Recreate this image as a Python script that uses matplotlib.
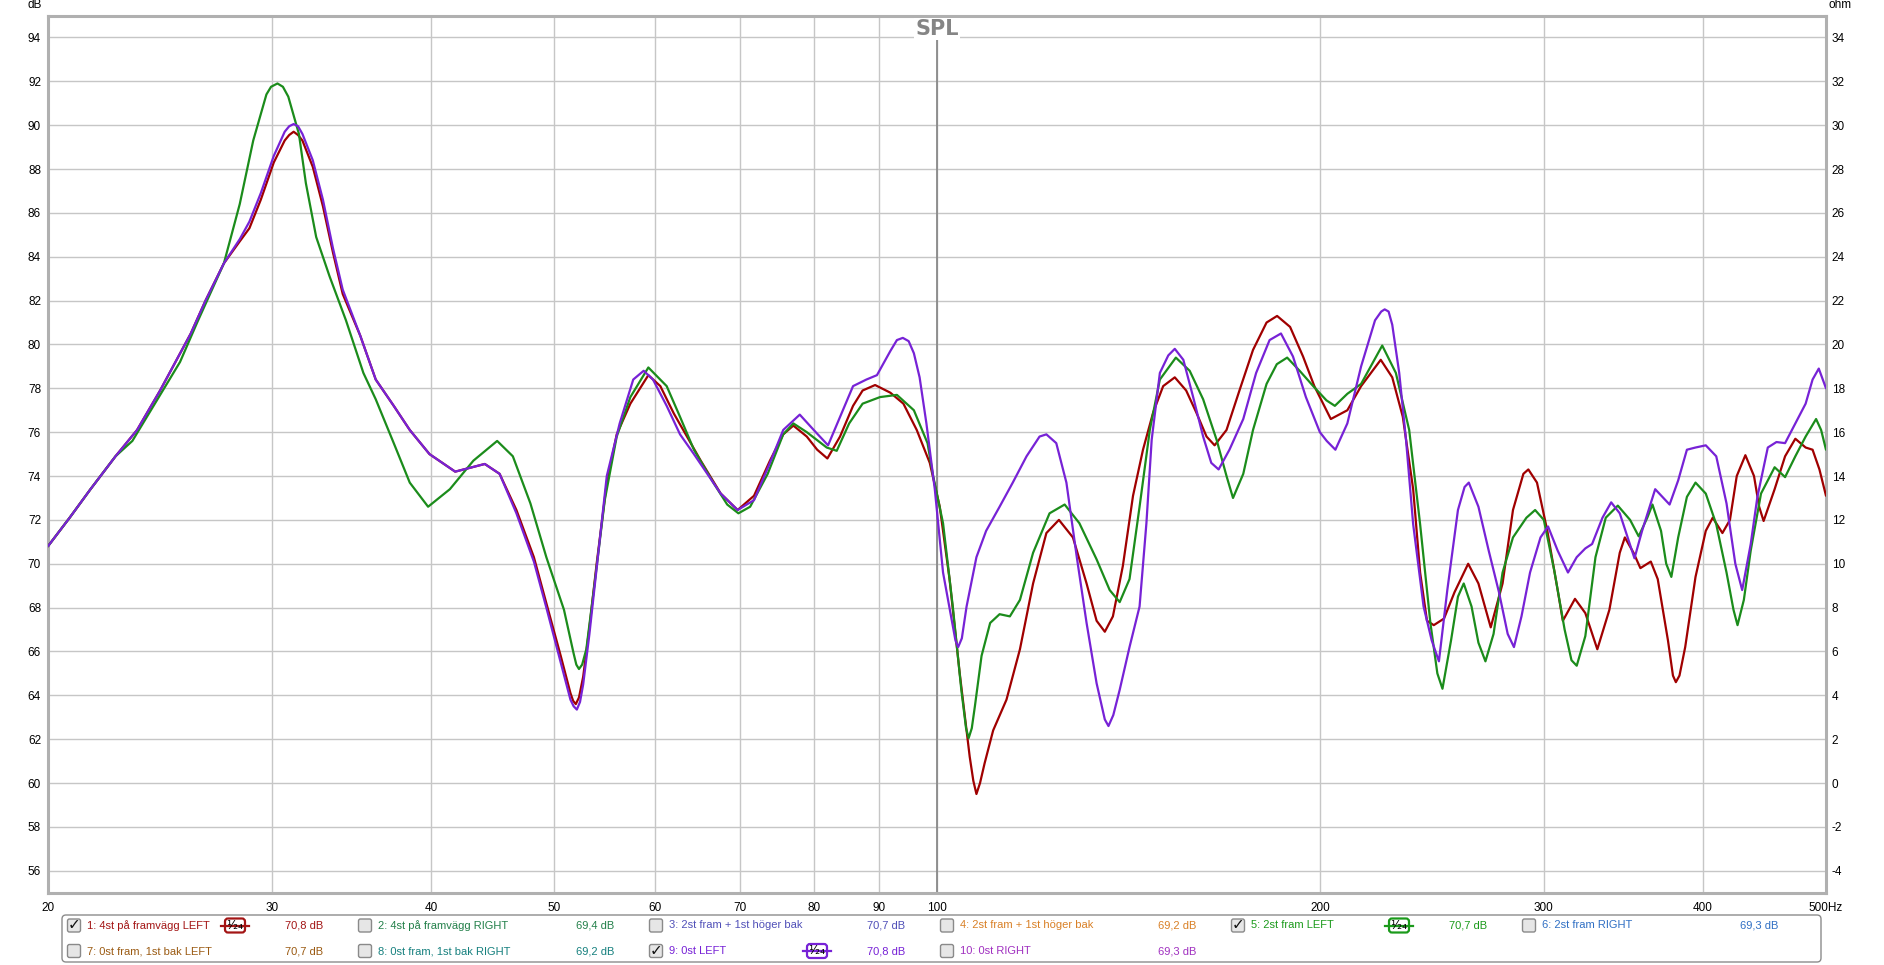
import matplotlib
matplotlib.use("Agg")
import matplotlib.pyplot as plt
from matplotlib import font_manager
from matplotlib.patches import FancyBboxPatch
from matplotlib.lines import Line2D
from matplotlib.transforms import IdentityTransform
from matplotlib.ticker import NullLocator

# ---- Data ----
# 1: 4st på framvägg LEFT
freq_1 = [20, 20.8, 21.6, 22.6, 23.5, 24.5, 25.9, 26.6, 27.5, 28.3,
          28.8, 29.4, 30.1, 30.7, 30.95, 31.2, 31.45, 31.7, 32.3, 32.9,
          33.5, 34.1, 35.2, 36.2, 37.4, 38.5, 39.9, 41.8, 44.1, 45.3,
          46.7, 48.2, 49.3, 50.6, 51.5, 51.75, 52.0, 52.3, 52.7, 53.3,
          54.0, 55.0, 56.0, 57.4, 59.3, 60.6, 62.1, 63.6, 65.2, 67.6,
          69.7, 71.8, 73.9, 75.7, 77.1, 79.0, 80.5, 82.0, 83.9, 85.9,
          87.4, 89.4, 91.9, 94.1, 96.4, 98.7, 100.5, 102.3, 104.2, 106.1,
          106.8, 107.4, 108.1, 109.0, 110.7, 113.4, 116.2, 119.0, 121.9, 124.7,
          127.9, 131.1, 133.5, 135.5, 137.5, 140.0, 142.6, 145.2, 147.9, 150.6,
          153.8, 157.0, 159.9, 162.9, 165.3, 168.9, 172.9, 177.2, 181.6, 185.1,
          189.5, 194.0, 198.0, 204.0, 210.2, 215.5, 223.3, 228.0, 232.4, 236.8,
          239.8, 242.8, 245.8, 250.4, 255.2, 261.6, 266.5, 272.5, 278.4, 283.7,
          289.1, 291.7, 296.3, 301.9, 307.6, 310.5, 317.4, 323.4, 330.5, 337.8,
          344.2, 347.4, 352.9, 357.3, 364.1, 368.7, 375.6, 379.0, 381.0, 383.5,
          387.5, 394.8, 402.2, 407.3, 414.5, 420.2, 425.4, 432.1, 438.9, 443.0,
          446.6, 455.6, 464.3, 473.0, 481.9, 488.0, 494.1, 500]
spl_1 = [70.8, 72.1, 73.4, 74.9, 76.1, 77.9, 80.5, 82.0, 83.7, 84.7,
         85.3, 86.6, 88.3, 89.3, 89.55, 89.7, 89.55, 89.3, 88.1, 86.3,
         84.2, 82.3, 80.4, 78.4, 77.2, 76.1, 75.0, 74.2, 74.55, 74.1,
         72.45, 70.3, 68.2, 65.8, 64.1, 63.75, 63.6, 63.9, 64.85, 67.1,
         70.0, 73.7, 75.9, 77.3, 78.6, 78.1, 76.85, 75.8, 74.7, 73.2,
         72.45, 73.1, 74.7, 75.9, 76.3, 75.8, 75.2, 74.8, 75.8, 77.2,
         77.9, 78.15, 77.8, 77.3, 76.1, 74.6, 72.6, 69.3, 65.0, 61.2,
         60.1, 59.5, 60.0, 60.9, 62.4, 63.8, 66.1, 69.1, 71.4, 72.0,
         71.2, 69.1, 67.4, 66.9, 67.6, 69.9, 73.1, 75.2, 76.9, 78.1,
         78.5, 77.9, 76.9, 75.8, 75.4, 76.1, 77.9, 79.75, 81.0, 81.3,
         80.8, 79.45, 78.1, 76.6, 77.0, 78.1, 79.3, 78.5, 76.7, 73.4,
         69.6, 67.4, 67.2, 67.5, 68.7, 70.0, 69.1, 67.1, 69.1, 72.45,
         74.1, 74.3, 73.7, 71.5, 68.8, 67.4, 68.4, 67.75, 66.1, 67.9,
         70.5, 71.2, 70.5, 69.8, 70.1, 69.3, 66.5, 64.9, 64.6, 64.9,
         66.2, 69.4, 71.5, 72.1, 71.4, 72.0, 74.0, 74.95, 74.0, 72.6,
         71.95, 73.4, 74.9, 75.7, 75.3, 75.2, 74.3, 73.1]

# 5: 2st fram LEFT
freq_5 = [20, 20.8, 21.6, 22.6, 23.3, 24.5, 25.4, 26.2, 27.5, 28.3,
          29.0, 29.7, 29.95, 30.3, 30.6, 30.9, 31.5, 31.9, 32.5, 33.3,
          34.3, 35.4, 36.2, 37.4, 38.5, 39.8, 41.4, 43.2, 45.1, 46.4,
          47.9, 49.3, 50.9, 51.8, 52.05, 52.3, 52.6, 53.0, 53.8, 54.8,
          56.0, 57.4, 59.3, 61.3, 62.8, 64.4, 66.7, 68.4, 69.8, 71.3,
          73.6, 75.7, 77.1, 79.0, 81.9, 83.4, 85.3, 87.4, 90.2, 93.0,
          95.9, 98.3, 99.3, 101.1, 102.9, 104.5, 105.4, 105.9, 106.5, 107.1,
          108.4, 110.1, 112.0, 114.1, 116.2, 119.0, 122.6, 126.0, 129.4, 133.5,
          136.7, 139.2, 141.7, 144.3, 147.0, 149.7, 154.1, 158.0, 161.9, 165.9,
          168.9, 170.9, 174.1, 177.2, 181.6, 185.0, 188.5, 192.8, 197.6, 202.4,
          205.5, 210.2, 215.5, 223.9, 229.5, 235.1, 239.8, 244.3, 247.4, 249.7,
          253.6, 256.8, 259.5, 263.2, 266.5, 269.9, 273.9, 278.4, 283.7, 290.7,
          295.3, 300.0, 305.7, 311.5, 315.4, 318.4, 323.4, 329.4, 335.6, 343.0,
          350.7, 356.2, 361.8, 365.2, 370.9, 374.4, 377.9, 382.6, 388.7, 394.8,
          402.2, 409.9, 417.6, 422.9, 426.0, 430.9, 436.3, 444.5, 455.6, 464.3,
          473.0, 481.9, 491.1, 495.6, 500]
spl_5 = [70.8, 72.1, 73.4, 74.9, 75.6, 77.7, 79.2, 81.0, 83.7, 86.4,
         89.3, 91.4, 91.75, 91.9, 91.75, 91.3, 89.6, 87.35, 84.9, 83.1,
         81.1, 78.7, 77.5, 75.5, 73.7, 72.6, 73.4, 74.7, 75.6, 74.9,
         72.75, 70.3, 67.9, 65.9, 65.4, 65.2, 65.4, 66.1, 69.1, 72.9,
         75.8, 77.6, 78.95, 78.1, 76.7, 75.2, 73.7, 72.7, 72.3, 72.6,
         74.1, 75.9, 76.4, 76.0, 75.3, 75.15, 76.4, 77.3, 77.6, 77.7,
         77.0, 75.5, 74.0, 71.85, 68.05, 64.25, 62.5, 62.05, 62.5, 63.5,
         65.8, 67.3, 67.7, 67.6, 68.35, 70.5, 72.3, 72.7, 71.85, 70.2,
         68.8, 68.25, 69.3, 72.6, 76.1, 78.4, 79.4, 78.8, 77.5, 75.65,
         74.0, 73.0, 74.1, 76.1, 78.2, 79.1, 79.4, 78.8, 78.1, 77.45,
         77.2, 77.75, 78.2, 79.95, 78.7, 76.1, 71.8, 67.3, 65.0, 64.3,
         66.5, 68.5, 69.1, 68.05, 66.4, 65.55, 66.8, 69.6, 71.2, 72.1,
         72.45, 72.0, 69.7, 67.0, 65.6, 65.35, 66.7, 70.3, 72.1, 72.65,
         72.0, 71.25, 72.1, 72.7, 71.5, 70.0, 69.4, 71.2, 73.05, 73.7,
         73.2, 71.8, 69.6, 67.9, 67.2, 68.35, 70.6, 73.2, 74.4, 73.95,
         74.9, 75.8, 76.6, 76.1, 75.2]

# 9: 0st LEFT
freq_9 = [20, 20.8, 21.6, 22.6, 23.5, 24.5, 25.9, 26.6, 27.5, 28.3,
          28.8, 29.4, 30.1, 30.7, 30.95, 31.2, 31.45, 31.7, 32.3, 32.9,
          33.5, 34.1, 35.2, 36.2, 37.4, 38.5, 39.9, 41.8, 44.1, 45.3,
          46.7, 48.2, 49.3, 50.6, 51.5, 51.8, 52.1, 52.4, 52.7, 53.3,
          54.0, 55.0, 56.3, 57.7, 58.8, 59.8, 61.3, 62.8, 64.4, 67.6,
          69.7, 71.8, 73.9, 75.7, 78.0, 80.0, 82.1, 83.9, 85.9, 88.0,
          89.7, 91.9, 93.0, 94.0, 95.0, 95.9, 96.9, 98.1, 99.6, 101.1,
          102.8, 103.4, 103.9, 104.6, 105.5, 107.4, 109.3, 112.0, 114.7, 117.6,
          120.4, 121.9, 124.1, 126.4, 128.8, 131.1, 133.5, 135.5, 136.4, 137.6,
          139.2, 141.7, 144.3, 146.1, 147.5, 149.7, 152.0, 153.8, 156.2, 159.0,
          161.9, 164.3, 166.5, 169.8, 174.1, 178.2, 182.6, 186.4, 190.5, 195.0,
          200.0, 202.5, 205.7, 210.2, 215.5, 221.0, 223.5, 224.9, 226.5, 228.0,
          230.9, 233.8, 236.8, 241.3, 244.9, 248.1, 251.9, 256.8, 259.9, 261.9,
          266.5, 271.5, 276.6, 281.0, 284.2, 288.1, 292.6, 298.2, 302.3, 307.6,
          313.4, 318.4, 323.4, 327.4, 333.6, 338.9, 344.2, 349.6, 353.5, 358.4,
          367.0, 376.7, 382.6, 388.7, 394.8, 402.2, 409.9, 417.6, 424.3, 429.6,
          436.3, 441.6, 450.0, 457.1, 464.3, 473.0, 481.9, 488.0, 493.5, 500]
spl_9 = [70.8, 72.1, 73.4, 74.9, 76.1, 77.9, 80.5, 82.0, 83.7, 84.8,
         85.6, 86.9, 88.6, 89.7, 89.95, 90.05, 89.95, 89.6, 88.4, 86.6,
         84.4, 82.5, 80.4, 78.4, 77.2, 76.1, 75.0, 74.2, 74.55, 74.1,
         72.3, 70.1, 68.0, 65.5, 63.8, 63.5, 63.35, 63.7, 64.5, 66.8,
         69.8, 74.0, 76.4, 78.4, 78.8, 78.4, 77.2, 75.9, 75.0, 73.2,
         72.45, 72.9, 74.6, 76.1, 76.8, 76.1, 75.4, 76.7, 78.1, 78.4,
         78.6, 79.7, 80.2, 80.3, 80.15, 79.6, 78.5, 76.4, 73.4, 69.6,
         67.3, 66.5, 66.2, 66.6, 68.05, 70.3, 71.5, 72.6, 73.7, 74.9,
         75.8, 75.9, 75.5, 73.7, 70.3, 67.3, 64.55, 62.9, 62.6, 63.1,
         64.25, 66.2, 68.05, 71.85, 75.65, 78.7, 79.5, 79.8, 79.3, 77.6,
         75.8, 74.6, 74.3, 75.2, 76.6, 78.7, 80.2, 80.5, 79.45, 77.6,
         76.0, 75.6, 75.2, 76.4, 79.0, 81.1, 81.5, 81.6, 81.5, 80.9,
         78.7, 75.6, 71.8, 68.05, 66.5, 65.55, 68.8, 72.45, 73.5, 73.7,
         72.6, 70.6, 68.7, 66.8, 66.2, 67.6, 69.6, 71.2, 71.7, 70.6,
         69.6, 70.3, 70.7, 70.9, 72.1, 72.8, 72.3, 71.1, 70.25, 71.5,
         73.4, 72.7, 73.8, 75.2, 75.3, 75.4, 74.9, 72.75, 70.0, 68.8,
         70.9, 73.05, 75.3, 75.55, 75.5, 76.4, 77.3, 78.4, 78.9, 78.0]

series_freqs = [freq_1, freq_5, freq_9]
series_spl = [spl_1, spl_5, spl_9]
series_colors = ["#a00000", "#1b8c1b", "#7722d6"]

x_ticks = [20, 30, 40, 50, 60, 70, 80, 90, 100, 200, 300, 400, 500]
x_tick_labels = ["20", "30", "40", "50", "60", "70", "80", "90", "100", "200", "300", "400", "500Hz"]
db_ticks = list(range(56, 95, 2))
ohm_ticks = list(range(-4, 35, 2))

# legend entries: (label, level, colour, checked)
legend_row1 = [("1: 4st på framvägg LEFT", "70,8 dB", "#a31515", True),
               ("2: 4st på framvägg RIGHT", "69,4 dB", "#23804a", False),
               ("3: 2st fram + 1st höger bak", "70,7 dB", "#5050b8", False),
               ("4: 2st fram + 1st höger bak", "69,2 dB", "#d98026", False),
               ("5: 2st fram LEFT", "70,7 dB", "#1b9a1b", True),
               ("6: 2st fram RIGHT", "69,3 dB", "#2f6fc4", False)]
legend_row2 = [("7: 0st fram, 1st bak LEFT", "70,7 dB", "#9a5a12", False),
               ("8: 0st fram, 1st bak RIGHT", "69,2 dB", "#16807e", False),
               ("9: 0st LEFT", "70,8 dB", "#7722d6", True),
               ("10: 0st RIGHT", "69,3 dB", "#a030c0", False)]

# ---- Fonts ----
installed = {f.name for f in font_manager.fontManager.ttflist}
main_font = "Liberation Sans Narrow" if "Liberation Sans Narrow" in installed else "Liberation Sans"
plt.rcParams["font.family"] = [main_font, "DejaVu Sans"]
plt.rcParams["axes.unicode_minus"] = False

# ---- Plotting ----
W, H = 1884, 965
fig = plt.figure(figsize=(W / 100, H / 100), dpi=100)
ax_left, ax_right, ax_top, ax_bottom = 48, 1826, 15.5, 892.7
ax = fig.add_axes([ax_left / W, 1 - ax_bottom / H, (ax_right - ax_left) / W, (ax_bottom - ax_top) / H])

ax.set_xscale("log")
ax.set_xlim(20, 500)
ax.set_ylim(55, 95)
ax.set_xticks(x_ticks)
ax.set_xticklabels(x_tick_labels)
ax.xaxis.set_minor_locator(NullLocator())
ax.set_yticks(db_ticks)
ax.set_yticklabels([str(v) for v in db_ticks])
ax.grid(True, color="#c6c6c6", lw=1)
ax.set_axisbelow(True)
ax.tick_params(length=0, labelsize=8.5, pad=5)
ax.tick_params(axis="x", pad=7)
for sp in ax.spines.values():
    sp.set_color("#b0b0b0")
    sp.set_linewidth(2.2)

ax2 = ax.twinx()
ax2.set_ylim(-5, 35)
ax2.set_yticks(ohm_ticks)
ax2.set_yticklabels([str(v) for v in ohm_ticks])
ax2.tick_params(length=0, labelsize=8.5, pad=4)
for sp in ax2.spines.values():
    sp.set_visible(False)

# cursor at 100 Hz
ax.axvline(100, color="#8a8a8a", lw=1.3, zorder=2)

for f, s, c in zip(series_freqs, series_spl, series_colors):
    ax.plot(f, s, color=c, lw=1.6, solid_joinstyle="round", solid_capstyle="round", zorder=3)

ax.text(0.5, 0.985, "SPL", transform=ax.transAxes, ha="center", va="center",
        fontsize=15, fontweight="bold", color="#858585", family=["DejaVu Sans"], zorder=5,
        bbox=dict(boxstyle="square,pad=0.05", facecolor="white", edgecolor="none"))

fig.text(35 / W, 1 - 5 / H, "dB", ha="center", va="center", fontsize=8.5)
fig.text(1840 / W, 1 - 5 / H, "ohm", ha="center", va="center", fontsize=8.5)

# ---- Legend panel (pixel coordinates, y from top) ----
pix = IdentityTransform()


def ty(y):
    return H - y


fig.add_artist(FancyBboxPatch((62, ty(962)), 1821 - 62, 962 - 915,
                              boxstyle="round,pad=0,rounding_size=4", transform=pix,
                              facecolor="white", edgecolor="#8c8c8c", lw=1))

col_pitch = 291
row_y = [925.5, 951]
for row, entries in enumerate([legend_row1, legend_row2]):
    y = row_y[row]
    for col, (label, level, color, checked) in enumerate(entries):
        cb = 74 + col * col_pitch
        fig.add_artist(FancyBboxPatch((cb - 6.5, ty(y + 6.5)), 13, 13,
                                      boxstyle="round,pad=0,rounding_size=2", transform=pix,
                                      facecolor="#e6e6e6", edgecolor="#8a8a8a", lw=1))
        if checked:
            fig.text(cb / W, 1 - (y - 0.5) / H, "✓", ha="center", va="center", fontsize=11,
                     fontweight="bold", color="#111111", family=["DejaVu Sans"])
            bx = cb + 161
            fig.add_artist(Line2D([bx - 14, bx + 14], [ty(y), ty(y)], transform=pix,
                                  color=color, lw=1.6))
            fig.add_artist(FancyBboxPatch((bx - 10, ty(y + 7)), 20, 14,
                                          boxstyle="round,pad=0,rounding_size=3", transform=pix,
                                          facecolor="white", edgecolor=color, lw=1.6))
            fig.text(bx / W, 1 - y / H, "¹⁄₂₄", ha="center", va="center", fontsize=9,
                     color="black", family=["DejaVu Sans"])
        fig.text((cb + 13) / W, 1 - y / H, label, ha="left", va="center", fontsize=8, color=color)
        fig.text((cb + 211) / W, 1 - y / H, level, ha="left", va="center", fontsize=8, color=color)

fig.savefig("out.png", dpi=100)
plt.close(fig)
